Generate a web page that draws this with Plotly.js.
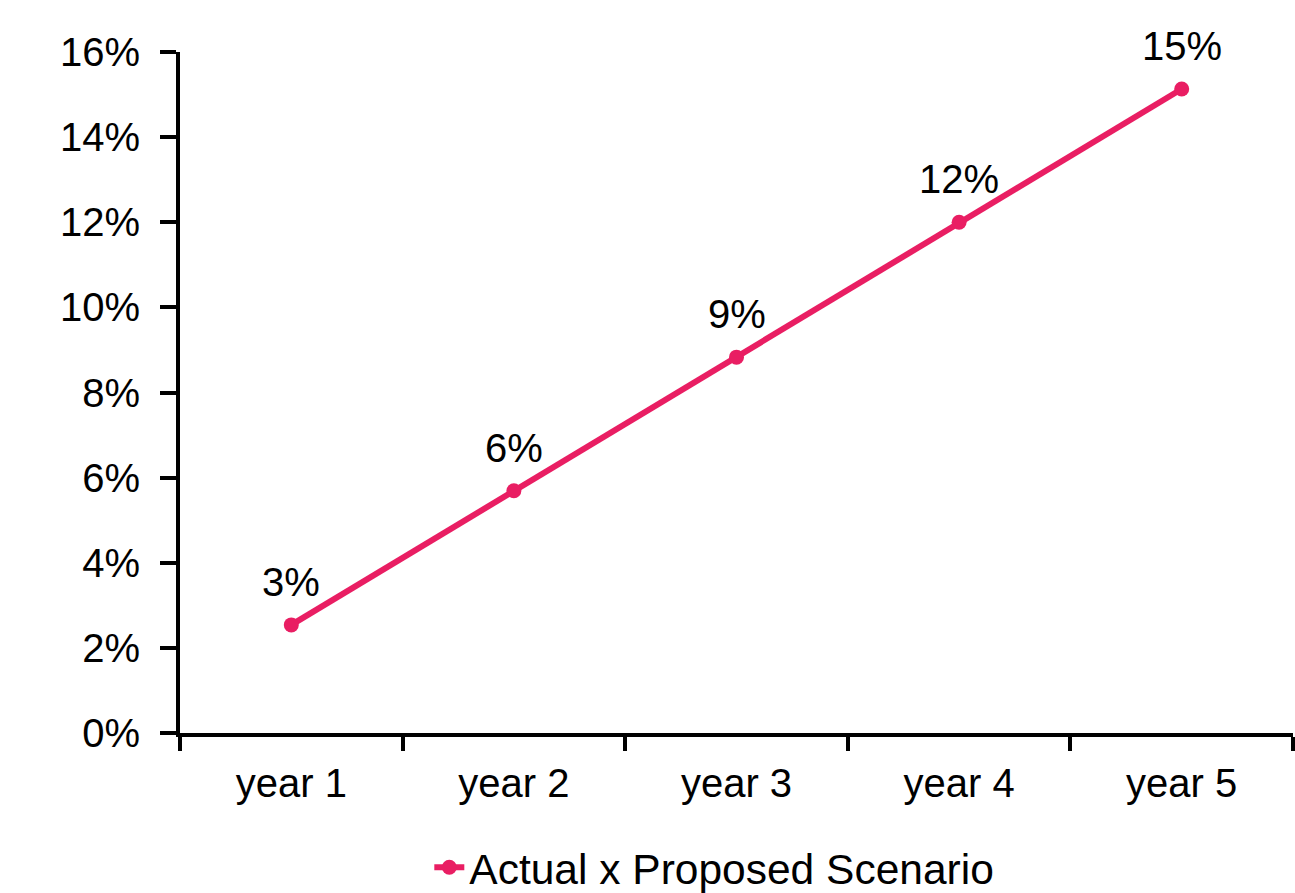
<!DOCTYPE html>
<html>
<head>
<meta charset="utf-8">
<script src="https://cdn.plot.ly/plotly-3.0.1.min.js"></script>
<style>html,body{margin:0;padding:0;background:#fff;}#chart{width:1295px;height:893px;}</style>
</head>
<body>
<div id="chart"></div>
<script>
var categories = ["year 1", "year 2", "year 3", "year 4", "year 5"];
var values = [2.54, 5.69, 8.83, 12.0, 15.13];
var seriesName = "Actual x Proposed Scenario";
var yTickVals = [0, 2, 4, 6, 8, 10, 12, 14, 16];
var yTickText = ["0%", "2%", "4%", "6%", "8%", "10%", "12%", "14%", "16%"];

var color = "#E91E63";
var font = {family: "Liberation Sans, Arial, sans-serif", size: 40, color: "#000"};

var trace = {
  x: categories,
  y: values,
  type: "scatter",
  mode: "lines+markers",
  name: seriesName,
  line: {color: color, width: 6},
  marker: {color: color, size: 15},
  cliponaxis: false
};

var annotations = categories.map(function (c, i) {
  return {
    x: c, y: values[i], xref: "x", yref: "y",
    text: Math.round(values[i]) + "%",
    showarrow: false, yshift: 43,
    font: font
  };
});

var layout = {
  width: 1295, height: 893,
  margin: {l: 180, r: 2, t: 52, b: 160, autoexpand: false},
  paper_bgcolor: "#fff", plot_bgcolor: "#fff",
  font: font,
  showlegend: true,
  legend: {orientation: "h", x: 0.224, xanchor: "left", y: -0.147, yanchor: "top", font: {family: font.family, size: 42.5, color: "#000"}},
  xaxis: {
    type: "category", range: [-0.5, 4.5],
    showline: true, linecolor: "#000", linewidth: 4,
    ticks: "outside", tickson: "boundaries", ticklen: 14, tickwidth: 4, tickcolor: "#000",
    ticklabelstandoff: 12,
    showgrid: false, zeroline: false, fixedrange: true
  },
  yaxis: {
    range: [0, 16], tickvals: yTickVals, ticktext: yTickText,
    showline: true, linecolor: "#000", linewidth: 4,
    ticks: "outside", ticklen: 16, tickwidth: 4, tickcolor: "#000",
    ticklabelstandoff: 12,
    showgrid: false, zeroline: false, fixedrange: true
  },
  annotations: annotations
};

Plotly.newPlot("chart", [trace], layout, {displayModeBar: false, staticPlot: true});
</script>
</body>
</html>
